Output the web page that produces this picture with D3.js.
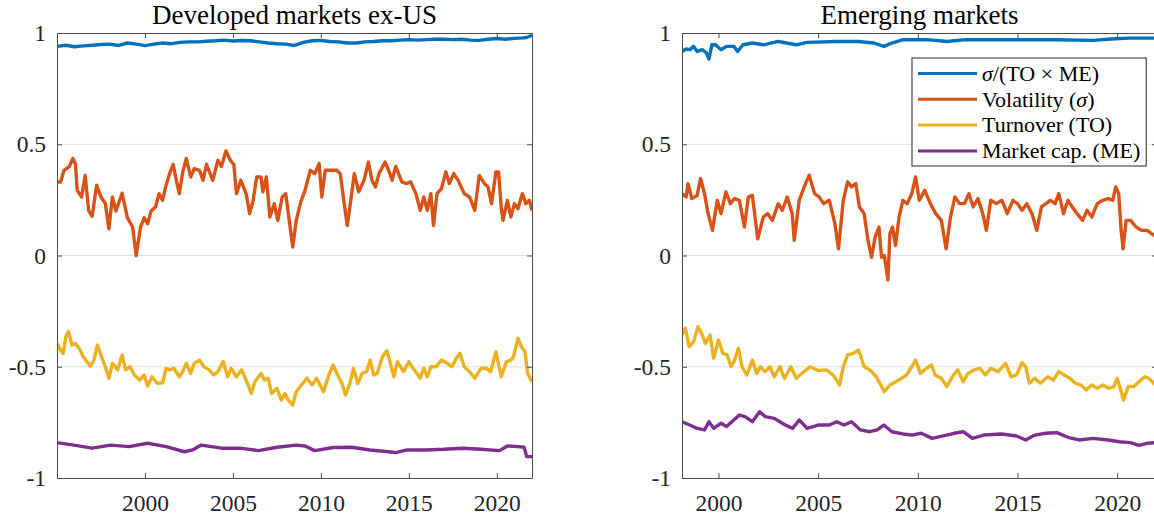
<!DOCTYPE html>
<html lang="en">
<head>
<meta charset="UTF-8">
<title>Correlations</title>
<script src="https://cdn.jsdelivr.net/npm/d3@7"></script>
<style>
  body { margin: 0; background: #fff; }
  svg { display: block; font-family: "Liberation Serif", "Times New Roman", serif; }
</style>
</head>
<body>
<svg id="chart" width="1154" height="519"></svg>
<script>
// ---- data: [year, correlation] ----
var devRatio = [[1995.0,0.94],[1995.5,0.945],[1996,0.938],[1996.5,0.942],[1997,0.945],[1997.5,0.948],[1998,0.95],[1998.5,0.944],[1999,0.955],[1999.5,0.95],[2000,0.943],[2000.5,0.95],[2001,0.955],[2001.5,0.952],[2002,0.958],[2002.5,0.96],[2003,0.96],[2003.5,0.963],[2004,0.965],[2004.5,0.968],[2005,0.964],[2005.5,0.966],[2006,0.965],[2006.5,0.96],[2007,0.955],[2007.5,0.952],[2008,0.95],[2008.5,0.944],[2009,0.958],[2009.5,0.965],[2010,0.967],[2010.5,0.962],[2011,0.96],[2011.5,0.955],[2012,0.955],[2012.5,0.96],[2013,0.962],[2013.5,0.965],[2014,0.965],[2014.5,0.968],[2015,0.97],[2015.5,0.968],[2016,0.97],[2016.5,0.972],[2017,0.972],[2017.5,0.97],[2018,0.972],[2018.5,0.968],[2019,0.967],[2019.5,0.972],[2020,0.975],[2020.5,0.972],[2021,0.976],[2021.5,0.978],[2021.7,0.98],[2022,0.99]];

var devVol = [[1995.0,0.331],[1995.2,0.33],[1995.4,0.383],[1995.7,0.40],[1995.9,0.436],[1996.05,0.41],[1996.15,0.293],[1996.4,0.263],[1996.6,0.36],[1996.8,0.203],[1997.0,0.176],[1997.25,0.316],[1997.5,0.263],[1997.75,0.233],[1997.95,0.12],[1998.15,0.263],[1998.35,0.2],[1998.7,0.28],[1999.0,0.17],[1999.3,0.128],[1999.5,0.0],[1999.75,0.128],[1999.95,0.17],[2000.15,0.143],[2000.35,0.2],[2000.6,0.218],[2000.8,0.278],[2001.0,0.248],[2001.2,0.316],[2001.4,0.368],[2001.6,0.41],[2001.8,0.331],[2001.95,0.278],[2002.15,0.376],[2002.35,0.436],[2002.6,0.353],[2002.8,0.39],[2003.1,0.383],[2003.3,0.338],[2003.5,0.41],[2003.85,0.338],[2004.15,0.428],[2004.35,0.40],[2004.6,0.47],[2004.85,0.428],[2005.05,0.41],[2005.2,0.278],[2005.45,0.338],[2005.75,0.278],[2005.95,0.188],[2006.15,0.248],[2006.35,0.353],[2006.6,0.353],[2006.7,0.286],[2006.9,0.353],[2007.1,0.173],[2007.35,0.233],[2007.55,0.158],[2007.8,0.263],[2008.0,0.278],[2008.2,0.158],[2008.4,0.038],[2008.6,0.158],[2008.85,0.24],[2009.1,0.293],[2009.4,0.383],[2009.65,0.368],[2009.9,0.413],[2010.05,0.263],[2010.25,0.383],[2010.6,0.383],[2010.9,0.383],[2011.1,0.368],[2011.3,0.248],[2011.5,0.135],[2011.7,0.248],[2011.9,0.368],[2012.15,0.286],[2012.45,0.338],[2012.7,0.42],[2012.9,0.338],[2013.1,0.308],[2013.3,0.368],[2013.65,0.42],[2013.85,0.383],[2014.05,0.338],[2014.25,0.40],[2014.6,0.331],[2014.85,0.323],[2015.1,0.331],[2015.4,0.278],[2015.65,0.203],[2015.85,0.263],[2016.05,0.203],[2016.25,0.278],[2016.4,0.135],[2016.6,0.278],[2016.85,0.30],[2017.1,0.376],[2017.3,0.323],[2017.55,0.368],[2017.8,0.338],[2018.15,0.278],[2018.45,0.263],[2018.75,0.203],[2019.0,0.36],[2019.3,0.323],[2019.5,0.308],[2019.7,0.233],[2019.95,0.376],[2020.1,0.376],[2020.25,0.218],[2020.35,0.158],[2020.6,0.248],[2020.8,0.173],[2021.0,0.233],[2021.2,0.21],[2021.45,0.278],[2021.65,0.233],[2021.85,0.248],[2022.0,0.203]];

var devTurn = [[1995.0,-0.395],[1995.2,-0.425],[1995.35,-0.44],[1995.5,-0.365],[1995.65,-0.342],[1995.85,-0.402],[1996.05,-0.395],[1996.25,-0.417],[1996.5,-0.455],[1996.7,-0.477],[1996.9,-0.497],[1997.1,-0.47],[1997.3,-0.402],[1997.5,-0.447],[1997.75,-0.50],[1997.95,-0.552],[1998.15,-0.485],[1998.45,-0.514],[1998.7,-0.447],[1998.9,-0.514],[1999.15,-0.50],[1999.4,-0.537],[1999.7,-0.56],[1999.95,-0.537],[2000.15,-0.587],[2000.4,-0.545],[2000.7,-0.575],[2001.0,-0.572],[2001.2,-0.507],[2001.4,-0.514],[2001.65,-0.507],[2001.95,-0.545],[2002.15,-0.522],[2002.35,-0.485],[2002.6,-0.53],[2002.8,-0.485],[2003.1,-0.47],[2003.35,-0.50],[2003.65,-0.514],[2003.9,-0.537],[2004.15,-0.522],[2004.45,-0.477],[2004.7,-0.545],[2004.9,-0.507],[2005.2,-0.545],[2005.5,-0.514],[2005.75,-0.56],[2006.05,-0.62],[2006.25,-0.567],[2006.6,-0.53],[2006.8,-0.56],[2007.0,-0.552],[2007.2,-0.62],[2007.5,-0.597],[2007.75,-0.65],[2007.95,-0.62],[2008.15,-0.65],[2008.4,-0.672],[2008.6,-0.612],[2008.9,-0.582],[2009.2,-0.552],[2009.5,-0.582],[2009.75,-0.552],[2009.95,-0.582],[2010.15,-0.612],[2010.45,-0.537],[2010.7,-0.492],[2010.95,-0.537],[2011.2,-0.575],[2011.4,-0.627],[2011.65,-0.575],[2011.85,-0.507],[2012.1,-0.575],[2012.35,-0.53],[2012.6,-0.522],[2012.8,-0.47],[2013.0,-0.537],[2013.2,-0.53],[2013.5,-0.455],[2013.75,-0.428],[2013.95,-0.485],[2014.15,-0.545],[2014.35,-0.477],[2014.7,-0.522],[2015.0,-0.477],[2015.3,-0.514],[2015.65,-0.552],[2015.85,-0.507],[2016.05,-0.545],[2016.25,-0.50],[2016.55,-0.50],[2016.85,-0.47],[2017.2,-0.485],[2017.45,-0.50],[2017.7,-0.462],[2017.9,-0.44],[2018.15,-0.50],[2018.45,-0.522],[2018.75,-0.552],[2019.1,-0.507],[2019.4,-0.507],[2019.65,-0.522],[2019.95,-0.432],[2020.25,-0.545],[2020.55,-0.477],[2020.8,-0.47],[2020.95,-0.455],[2021.2,-0.372],[2021.4,-0.41],[2021.6,-0.432],[2021.75,-0.53],[2022.0,-0.567]];

var devSize = [[1995.0,-0.841],[1995.95,-0.852],[1997.0,-0.866],[1998.05,-0.852],[1999.1,-0.859],[2000.15,-0.844],[2001.2,-0.859],[2002.25,-0.882],[2002.7,-0.874],[2003.2,-0.852],[2004.35,-0.866],[2005.4,-0.866],[2006.45,-0.877],[2007.5,-0.862],[2008.6,-0.852],[2009.1,-0.856],[2009.65,-0.877],[2010.7,-0.863],[2011.75,-0.862],[2012.8,-0.874],[2013.85,-0.882],[2014.25,-0.886],[2014.9,-0.874],[2015.95,-0.874],[2017.0,-0.871],[2018.05,-0.866],[2019.1,-0.871],[2020.15,-0.877],[2020.6,-0.856],[2021.2,-0.859],[2021.55,-0.862],[2021.7,-0.904],[2022.0,-0.904]];

var emRatio = [[1998.17,0.917],[1998.38,0.928],[1998.56,0.925],[1998.75,0.94],[1998.93,0.917],[1999.2,0.925],[1999.4,0.91],[1999.52,0.883],[1999.67,0.947],[1999.85,0.947],[2000.13,0.925],[2000.4,0.94],[2000.77,0.94],[2000.96,0.917],[2001.23,0.947],[2001.7,0.955],[2002.25,0.947],[2003.0,0.962],[2003.9,0.947],[2004.45,0.958],[2005.9,0.962],[2007.0,0.962],[2007.8,0.955],[2008.3,0.94],[2008.7,0.955],[2009.25,0.97],[2010.5,0.97],[2011.45,0.962],[2012.4,0.97],[2013.3,0.97],[2015.15,0.97],[2017.0,0.97],[2018.8,0.967],[2019.7,0.973],[2020.6,0.977],[2022.0,0.977]];

var emVol = [[1998.17,0.278],[1998.38,0.263],[1998.47,0.323],[1998.66,0.256],[1998.93,0.27],[1999.1,0.346],[1999.3,0.278],[1999.48,0.188],[1999.7,0.113],[1999.94,0.248],[2000.13,0.188],[2000.37,0.286],[2000.6,0.233],[2000.8,0.256],[2001.05,0.248],[2001.3,0.128],[2001.5,0.263],[2001.7,0.27],[2001.97,0.075],[2002.25,0.173],[2002.47,0.188],[2002.7,0.158],[2003.0,0.233],[2003.2,0.203],[2003.45,0.263],[2003.7,0.188],[2003.8,0.068],[2004.05,0.248],[2004.3,0.308],[2004.55,0.361],[2004.82,0.278],[2005.05,0.263],[2005.28,0.233],[2005.56,0.248],[2005.84,0.143],[2006.02,0.03],[2006.26,0.248],[2006.48,0.331],[2006.67,0.308],[2006.89,0.323],[2007.07,0.218],[2007.31,0.188],[2007.5,0.068],[2007.68,-0.008],[2007.86,0.083],[2008.05,0.128],[2008.18,-0.008],[2008.32,0.0],[2008.5,-0.11],[2008.6,0.098],[2008.73,0.128],[2008.88,0.045],[2009.06,0.173],[2009.25,0.248],[2009.47,0.233],[2009.7,0.278],[2009.89,0.353],[2010.07,0.248],[2010.35,0.293],[2010.63,0.233],[2010.9,0.188],[2011.18,0.158],[2011.42,0.03],[2011.64,0.173],[2011.86,0.263],[2012.1,0.233],[2012.34,0.233],[2012.56,0.278],[2012.78,0.218],[2013.02,0.256],[2013.26,0.188],[2013.44,0.113],[2013.66,0.248],[2013.94,0.233],[2014.22,0.248],[2014.49,0.188],[2014.77,0.248],[2015.0,0.233],[2015.23,0.203],[2015.47,0.233],[2015.73,0.188],[2015.97,0.113],[2016.2,0.218],[2016.43,0.233],[2016.65,0.248],[2016.89,0.233],[2017.07,0.278],[2017.31,0.188],[2017.53,0.248],[2017.75,0.218],[2017.99,0.188],[2018.27,0.158],[2018.49,0.203],[2018.73,0.173],[2019.0,0.233],[2019.28,0.248],[2019.56,0.256],[2019.78,0.248],[2019.93,0.308],[2020.08,0.278],[2020.2,0.113],[2020.3,0.03],[2020.45,0.158],[2020.67,0.158],[2020.95,0.128],[2021.22,0.113],[2021.5,0.113],[2021.73,0.098],[2022.0,0.083]];

var emTurn = [[1998.17,-0.357],[1998.34,-0.327],[1998.53,-0.41],[1998.75,-0.387],[1998.97,-0.32],[1999.15,-0.35],[1999.34,-0.395],[1999.58,-0.357],[1999.76,-0.462],[2000.0,-0.38],[2000.22,-0.44],[2000.44,-0.447],[2000.63,-0.50],[2000.81,-0.47],[2001.0,-0.417],[2001.18,-0.50],[2001.42,-0.537],[2001.7,-0.47],[2001.92,-0.53],[2002.1,-0.50],[2002.34,-0.522],[2002.58,-0.50],[2002.8,-0.545],[2003.08,-0.50],[2003.31,-0.552],[2003.63,-0.50],[2003.9,-0.552],[2004.18,-0.53],[2004.6,-0.50],[2005.0,-0.517],[2005.41,-0.514],[2005.75,-0.537],[2006.08,-0.582],[2006.26,-0.50],[2006.48,-0.447],[2006.76,-0.44],[2007.03,-0.425],[2007.31,-0.50],[2007.59,-0.514],[2007.92,-0.545],[2008.32,-0.612],[2008.6,-0.582],[2009.06,-0.56],[2009.43,-0.537],[2009.7,-0.50],[2009.89,-0.47],[2010.13,-0.53],[2010.44,-0.507],[2010.68,-0.492],[2010.87,-0.537],[2011.18,-0.552],[2011.46,-0.589],[2011.73,-0.545],[2012.0,-0.514],[2012.28,-0.567],[2012.52,-0.53],[2012.84,-0.514],[2013.11,-0.507],[2013.39,-0.537],[2013.66,-0.507],[2014.03,-0.522],[2014.4,-0.485],[2014.68,-0.545],[2014.95,-0.537],[2015.23,-0.482],[2015.41,-0.50],[2015.6,-0.574],[2015.87,-0.552],[2016.15,-0.574],[2016.52,-0.545],[2016.8,-0.56],[2017.07,-0.522],[2017.35,-0.537],[2017.63,-0.552],[2017.9,-0.574],[2018.18,-0.582],[2018.45,-0.604],[2018.73,-0.582],[2019.0,-0.597],[2019.28,-0.582],[2019.56,-0.597],[2019.83,-0.589],[2020.0,-0.552],[2020.13,-0.589],[2020.32,-0.65],[2020.56,-0.589],[2020.83,-0.589],[2021.1,-0.567],[2021.38,-0.545],[2021.6,-0.552],[2022.0,-0.589]];

var emSize = [[1998.17,-0.747],[1998.56,-0.762],[1998.93,-0.777],[1999.3,-0.784],[1999.52,-0.747],[1999.76,-0.777],[2000.13,-0.754],[2000.4,-0.769],[2000.77,-0.739],[2001.05,-0.717],[2001.33,-0.724],[2001.7,-0.747],[2002.06,-0.702],[2002.34,-0.724],[2002.8,-0.732],[2003.35,-0.762],[2003.72,-0.777],[2004.05,-0.739],[2004.45,-0.777],[2005.0,-0.762],[2005.56,-0.762],[2005.93,-0.747],[2006.3,-0.762],[2006.67,-0.747],[2007.13,-0.784],[2007.59,-0.792],[2007.96,-0.784],[2008.29,-0.762],[2008.7,-0.792],[2009.25,-0.802],[2009.7,-0.807],[2010.17,-0.799],[2010.72,-0.822],[2011.27,-0.811],[2011.82,-0.799],[2012.28,-0.792],[2012.74,-0.822],[2013.3,-0.807],[2014.22,-0.802],[2014.95,-0.811],[2015.41,-0.829],[2015.87,-0.807],[2016.43,-0.799],[2016.98,-0.796],[2017.53,-0.817],[2018.08,-0.829],[2018.8,-0.822],[2019.56,-0.829],[2020.1,-0.837],[2020.67,-0.841],[2021.1,-0.853],[2021.5,-0.844],[2022.0,-0.841]];

var seriesNames = ["σ/(TO × ME)", "Volatility (σ)", "Turnover (TO)", "Market cap. (ME)"];
var seriesColors = ["#0072BD", "#D95319", "#EDB120", "#7E2F8E"];
var panelTitles = ["Developed markets ex-US", "Emerging markets"];
var xDomains = [[1995, 2022], [1998.17, 2022]];
var xTicks = [2000, 2005, 2010, 2015, 2020];
var yTicks = [-1, -0.5, 0, 0.5, 1];

var panels = [
    { title: panelTitles[0], xDomain: xDomains[0], left: 57, right: 532, series: [devRatio, devVol, devTurn, devSize], legend: false },
    { title: panelTitles[1], xDomain: xDomains[1], left: 682, right: 1157, series: [emRatio, emVol, emTurn, emSize], legend: true }
];

var plotTop = 33, plotBottom = 478;
var axisColor = "#4d4d4d", textColor = "#262626";
var svg = d3.select("#chart");

panels.forEach(function(p, pi) {
    var x = d3.scaleLinear().domain(p.xDomain).range([p.left, p.right]);
    var y = d3.scaleLinear().domain([-1, 1]).range([plotBottom, plotTop]);
    var g = svg.append("g");

    // horizontal grid
    g.append("g").selectAll("line")
        .data(yTicks.slice(1, -1))
        .enter().append("line")
        .attr("x1", p.left).attr("x2", p.right)
        .attr("y1", function(d) { return y(d); })
        .attr("y2", function(d) { return y(d); })
        .attr("stroke", "#e1e1e1")
        .attr("stroke-width", 1);

    // clip for the lines
    svg.append("clipPath").attr("id", "clip" + pi)
        .append("rect")
        .attr("x", p.left).attr("y", plotTop)
        .attr("width", p.right - p.left).attr("height", plotBottom - plotTop);

    var line = d3.line()
        .x(function(d) { return x(d[0]); })
        .y(function(d) { return y(d[1]); });

    g.append("g").attr("clip-path", "url(#clip" + pi + ")")
        .selectAll("path")
        .data(p.series)
        .enter().append("path")
        .attr("d", line)
        .attr("fill", "none")
        .attr("stroke", function(d, i) { return seriesColors[i]; })
        .attr("stroke-width", 3.4)
        .attr("stroke-linejoin", "round");

    // axes, ticks pointing inward on all four sides
    var fmtY = function(d) { return String(d); };
    var axB = g.append("g").attr("transform", "translate(0," + plotBottom + ")")
        .call(d3.axisBottom(x).tickValues(xTicks).tickFormat(d3.format("d")).tickSizeInner(-5).tickSizeOuter(0).tickPadding(16));
    var axT = g.append("g").attr("transform", "translate(0," + plotTop + ")")
        .call(d3.axisTop(x).tickValues(xTicks).tickFormat("").tickSizeInner(-5).tickSizeOuter(0));
    var axL = g.append("g").attr("transform", "translate(" + p.left + ",0)")
        .call(d3.axisLeft(y).tickValues(yTicks).tickFormat(fmtY).tickSizeInner(-5).tickSizeOuter(0).tickPadding(11));
    var axR = g.append("g").attr("transform", "translate(" + p.right + ",0)")
        .call(d3.axisRight(y).tickValues(yTicks).tickFormat("").tickSizeInner(-5).tickSizeOuter(0));

    [axB, axT, axL, axR].forEach(function(a) {
        a.select(".domain").attr("stroke", axisColor);
        a.selectAll(".tick line").attr("stroke", axisColor);
        a.selectAll(".tick text")
            .attr("fill", textColor)
            .style("font-family", "'Liberation Serif', 'Times New Roman', serif")
            .style("font-size", "23.5px");
    });

    // title
    g.append("text")
        .attr("x", (p.left + p.right) / 2)
        .attr("y", 24)
        .attr("text-anchor", "middle")
        .attr("fill", "#000")
        .style("font-size", "27px")
        .text(p.title);

    if (p.legend) {
        var lx = 912, ly = 58, rowH = 25.8;
        var lg = g.append("g");
        var box = lg.append("rect")
            .attr("x", lx).attr("y", ly)
            .attr("height", 108)
            .attr("fill", "#fff")
            .attr("stroke", "#262626")
            .attr("stroke-width", 1);
        var maxW = 0;
        seriesNames.forEach(function(name, i) {
            var cy = ly + 15.5 + i * rowH;
            lg.append("line")
                .attr("x1", lx + 6).attr("x2", lx + 65)
                .attr("y1", cy).attr("y2", cy)
                .attr("stroke", seriesColors[i])
                .attr("stroke-width", 3);
            var t = lg.append("text")
                .attr("x", lx + 70).attr("y", cy)
                .attr("dy", "0.33em")
                .attr("fill", "#000")
                .style("font-size", "22px");
            // italic sigma like the LaTeX legend
            name.split(/(σ)/).forEach(function(part) {
                if (!part) return;
                var ts = t.append("tspan").text(part);
                if (part === "σ") ts.style("font-style", "italic");
            });
            maxW = Math.max(maxW, t.node().getComputedTextLength());
        });
        box.attr("width", 70 + maxW + 6);
    }
});
</script>
</body>
</html>
